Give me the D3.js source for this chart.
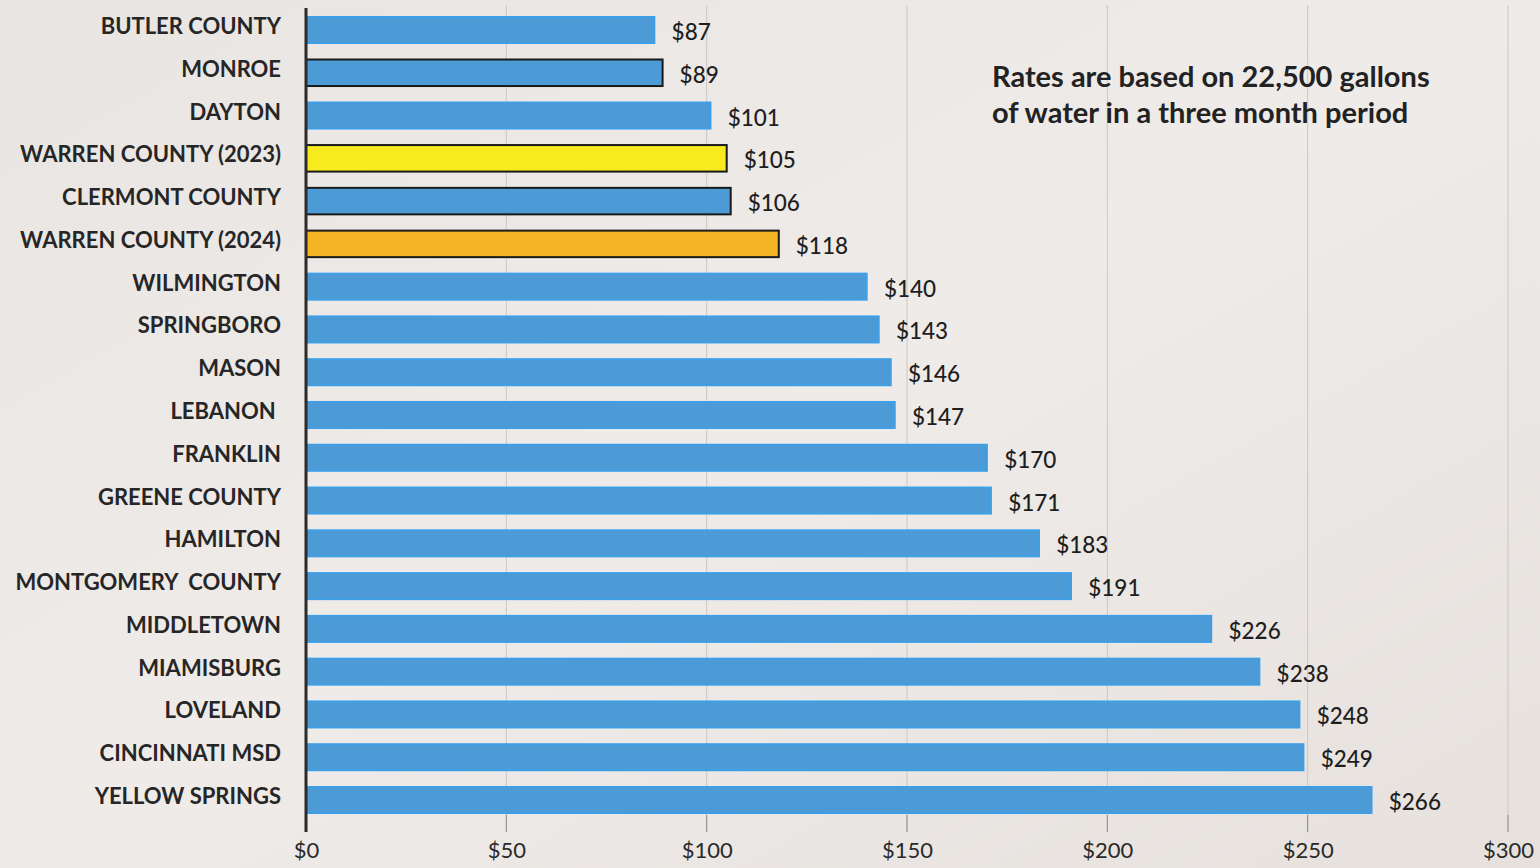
<!DOCTYPE html>
<html>
<head>
<meta charset="utf-8">
<script src="https://cdn.jsdelivr.net/npm/d3@7"></script>
<style>
  html, body { margin: 0; padding: 0; background: #ebe7e3; }
  svg { display: block; }
  text { font-family: Lato, "Open Sans", sans-serif; }
</style>
</head>
<body>
<svg id="chart" width="1540" height="868"></svg>
<script>
const categories = ["BUTLER COUNTY","MONROE","DAYTON","WARREN COUNTY (2023)","CLERMONT COUNTY","WARREN COUNTY (2024)","WILMINGTON","SPRINGBORO","MASON","LEBANON ","FRANKLIN","GREENE COUNTY","HAMILTON","MONTGOMERY  COUNTY","MIDDLETOWN","MIAMISBURG","LOVELAND","CINCINNATI MSD","YELLOW SPRINGS"];
const values = [87, 89, 101, 105, 106, 118, 140, 143, 146, 147, 170, 171, 183, 191, 226, 238, 248, 249, 266];
const tickValues = [0, 50, 100, 150, 200, 250, 300];
const outlined = ["MONROE", "CLERMONT COUNTY", "WARREN COUNTY (2023)", "WARREN COUNTY (2024)"];
const highlight = { "WARREN COUNTY (2023)": "#f7ea1f", "WARREN COUNTY (2024)": "#f4b525" };
const note = ["Rates are based on 22,500 gallons", "of water in a three month period"];

const svg = d3.select("#chart");
const W = 1540, H = 868;

const defs = svg.append("defs");
const g = defs.append("linearGradient").attr("id", "bg").attr("x1", 0).attr("y1", 0).attr("x2", 1).attr("y2", 1);
g.append("stop").attr("offset", "0%").attr("stop-color", "#e9e5e2");
g.append("stop").attr("offset", "50%").attr("stop-color", "#efebe8");
g.append("stop").attr("offset", "100%").attr("stop-color", "#e6e1dd");
svg.append("rect").attr("width", W).attr("height", H).attr("fill", "url(#bg)");

const x = d3.scaleLinear().domain([0, 300]).range([306, 1508]);
const y = d3.scaleBand().domain(categories).range([8.6, 821.4]).paddingInner(0.38).paddingOuter(0.19);

// gridlines
svg.append("g").selectAll("line").data(tickValues.slice(1)).join("line")
  .attr("x1", d => x(d)).attr("x2", d => x(d))
  .attr("y1", 5).attr("y2", 832)
  .attr("stroke", "#cbc7c3").attr("stroke-width", 1);

svg.append("g").selectAll("line").data(tickValues.slice(1)).join("line")
  .attr("x1", d => x(d)).attr("x2", d => x(d))
  .attr("y1", 815).attr("y2", 832)
  .attr("stroke", "#8f8b88").attr("stroke-width", 1);

// bars
svg.append("g").selectAll("rect").data(categories).join("rect")
  .attr("x", x(0))
  .attr("y", d => y(d))
  .attr("width", (d, i) => x(values[i]) - x(0))
  .attr("height", y.bandwidth())
  .attr("fill", d => highlight[d] || "#4d9bd6")
  .attr("stroke", d => outlined.includes(d) ? "#1a1a1a" : "#3aa0ec")
  .attr("stroke-width", d => outlined.includes(d) ? 2 : 1.5);

// value labels
svg.append("g").selectAll("text").data(categories).join("text")
  .attr("x", (d, i) => x(values[i]) + 17)
  .attr("y", d => y(d) + y.bandwidth() / 2 + 10)
  .attr("font-size", 22.5).attr("font-weight", 500).attr("fill", "#1e1e1e")
  .text((d, i) => "$" + values[i]);

// category labels
svg.append("g").selectAll("text").data(categories).join("text")
  .attr("x", 281)
  .attr("y", d => y(d) + y.bandwidth() / 2 + 4)
  .attr("text-anchor", "end")
  .attr("font-size", 22).attr("font-weight", 700).attr("fill", "#262626")
  .style("white-space", "pre")
  .text(d => d);

// y axis line
svg.append("line").attr("x1", x(0)).attr("x2", x(0)).attr("y1", 8).attr("y2", 832)
  .attr("stroke", "#2b2b2b").attr("stroke-width", 3);

// x axis tick labels
const xAxis = d3.axisBottom(x).tickValues(tickValues).tickFormat(d => "$" + d).tickSize(0).tickPadding(0);
const ax = svg.append("g").attr("transform", "translate(0,838)").call(xAxis);
ax.select(".domain").remove();
ax.selectAll("text").attr("font-size", 22).attr("fill", "#2a2a2a")
  .attr("font-family", "Lato, 'Open Sans', sans-serif").attr("dy", "0.9em");

// note
svg.append("g").selectAll("text").data(note).join("text")
  .attr("x", 992).attr("y", (d, i) => 87 + i * 36)
  .attr("font-size", 29).attr("font-weight", 700).attr("fill", "#222")
  .text(d => d);
</script>
</body>
</html>
